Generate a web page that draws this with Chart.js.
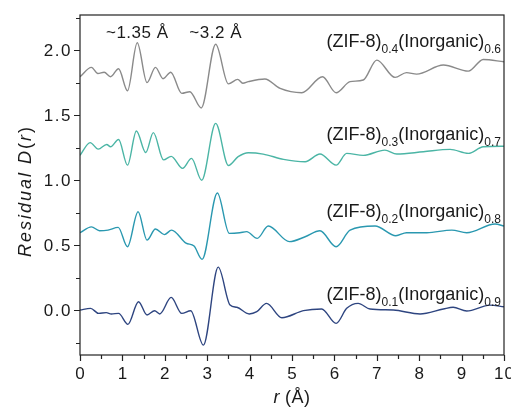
<!DOCTYPE html>
<html>
<head>
<meta charset="utf-8">
<script src="https://cdn.jsdelivr.net/npm/chart.js@4"></script>
<style>
  html, body { margin: 0; padding: 0; background: #fff; }
  #wrap { width: 511px; height: 411px; }
</style>
</head>
<body>
<div id="wrap"><canvas id="pdf" width="511" height="411"></canvas></div>
<script>
// residual D(r) curves, offset by composition
const r01 = [0, 0.25, 0.44, 0.62, 0.74, 0.91, 1.13, 1.38, 1.58, 1.76, 1.88, 2.15, 2.4, 2.61, 2.91, 3.26, 3.54, 3.7, 3.99, 4.17, 4.4, 4.76, 5.27, 5.7, 6.04, 6.29, 6.56, 6.84, 7.39, 8.02, 8.57, 8.8, 9.12, 9.67, 10];
const d01 = [0, 0.013, -0.026, -0.02, -0.03, -0.026, -0.11, 0.064, -0.038, -0.005, -0.03, 0.097, -0.026, -0.005, -0.27, 0.33, 0.038, 0.021, -0.03, -0.013, 0.051, -0.059, -0.005, 0.008, -0.103, 0.013, 0.051, 0.008, 0.0, -0.03, 0.008, 0.021, -0.008, 0.038, 0.025];

const r02 = [0, 0.27, 0.46, 0.66, 0.9, 1.12, 1.37, 1.58, 1.78, 1.99, 2.16, 2.5, 2.69, 2.88, 3.24, 3.52, 3.77, 3.93, 4.18, 4.44, 4.94, 5.31, 5.66, 6.04, 6.37, 6.96, 7.45, 7.7, 8.18, 8.77, 9.12, 9.79, 10];
const d02 = [0.595, 0.64, 0.61, 0.615, 0.636, 0.487, 0.756, 0.538, 0.623, 0.58, 0.615, 0.515, 0.492, 0.39, 0.9, 0.59, 0.595, 0.603, 0.551, 0.646, 0.526, 0.564, 0.61, 0.487, 0.615, 0.646, 0.572, 0.595, 0.595, 0.615, 0.595, 0.662, 0.646];

const r03 = [0, 0.24, 0.43, 0.63, 0.72, 0.91, 1.12, 1.33, 1.55, 1.73, 1.97, 2.15, 2.42, 2.63, 2.87, 3.2, 3.5, 3.73, 3.97, 4.32, 4.8, 5.31, 5.66, 6.04, 6.29, 6.68, 7.19, 7.47, 8.1, 8.73, 9.16, 9.51, 10];
const d03 = [1.19, 1.288, 1.238, 1.274, 1.256, 1.312, 1.115, 1.378, 1.212, 1.365, 1.155, 1.182, 1.09, 1.167, 0.998, 1.436, 1.112, 1.18, 1.21, 1.2, 1.159, 1.141, 1.2, 1.115, 1.205, 1.19, 1.23, 1.2, 1.218, 1.236, 1.205, 1.256, 1.26];

const r04 = [0, 0.27, 0.42, 0.57, 0.72, 0.91, 1.12, 1.35, 1.58, 1.78, 1.96, 2.14, 2.4, 2.59, 2.86, 3.2, 3.5, 3.72, 3.84, 3.97, 4.36, 4.72, 5.23, 5.72, 6.04, 6.37, 6.68, 7.0, 7.43, 7.7, 7.94, 8.57, 9.16, 9.51, 10];
const d04 = [1.795, 1.867, 1.82, 1.83, 1.795, 1.857, 1.687, 2.056, 1.75, 1.867, 1.78, 1.83, 1.667, 1.68, 1.555, 2.045, 1.74, 1.775, 1.745, 1.757, 1.777, 1.705, 1.672, 1.795, 1.672, 1.757, 1.77, 1.923, 1.79, 1.827, 1.815, 1.885, 1.838, 1.928, 1.91];

const seriesNames = ["0.1|0.9", "0.2|0.8", "0.3|0.7", "0.4|0.6"];
const seriesColors = ["#2e4580", "#2a98b0", "#4bb5a5", "#8a8a8a"];
const labelBaselines = [300, 217, 140, 47];

const xTicks = [0, 1, 2, 3, 4, 5, 6, 7, 8, 9, 10];
const yTicks = [0.0, 0.5, 1.0, 1.5, 2.0];
const peakNotes = [["~1.35 Å", 1.35], ["~3.2 Å", 3.2]];

const FONT = "'Liberation Sans', Arial, sans-serif";

function toPoints(rs, ds) {
  return rs.map((r, i) => ({ x: r, y: ds[i] }));
}

// draw a sequence of text runs (different fonts / vertical offsets) as one label
function drawRuns(ctx, runs, x, y, align) {
  let total = 0;
  runs.forEach((run) => {
    ctx.font = run.font;
    ctx.letterSpacing = run.spacing || "0px";
    run.w = ctx.measureText(run.text).width;
    total += run.w;
  });
  let cx = align === "right" ? x - total : align === "center" ? x - total / 2 : x;
  runs.forEach((run) => {
    ctx.font = run.font;
    ctx.letterSpacing = run.spacing || "0px";
    ctx.textAlign = "left";
    ctx.fillText(run.text, cx, y + (run.dy || 0));
    cx += run.w;
  });
  ctx.letterSpacing = "0px";
}

const axesPlugin = {
  id: "axesPlugin",
  beforeDraw(chart) {
    const ctx = chart.ctx;
    ctx.save();
    ctx.fillStyle = "#fff";
    ctx.fillRect(0, 0, chart.width, chart.height);
    ctx.restore();
  },
  afterDraw(chart) {
    const ctx = chart.ctx;
    const area = chart.chartArea;
    const xs = chart.scales.x;
    const ys = chart.scales.y;
    ctx.save();

    // frame
    ctx.strokeStyle = "#222";
    ctx.lineWidth = 1.2;
    ctx.strokeRect(area.left, area.top, area.right - area.left, area.bottom - area.top);

    // ticks, major and minor, pointing outward
    ctx.beginPath();
    for (let v = 0; v <= 10.001; v += 0.5) {
      const px = Math.round(xs.getPixelForValue(v)) + 0.5;
      const len = Number.isInteger(Math.round(v * 2) / 2) && v % 1 === 0 ? 6 : 4;
      ctx.moveTo(px, area.bottom);
      ctx.lineTo(px, area.bottom + len);
    }
    for (let v = -0.25; v <= 2.3; v += 0.25) {
      const py = Math.round(ys.getPixelForValue(v)) + 0.5;
      const len = Math.abs(v * 2 - Math.round(v * 2)) < 0.01 ? 6 : 4;
      ctx.moveTo(area.left, py);
      ctx.lineTo(area.left - len, py);
    }
    ctx.stroke();

    // tick labels
    ctx.fillStyle = "#1a1a1a";
    ctx.textBaseline = "alphabetic";
    yTicks.forEach((v) => {
      drawRuns(ctx, [{ text: v.toFixed(1), font: "17px " + FONT, spacing: "1.5px" }],
        area.left - 8, ys.getPixelForValue(v) + 6, "right");
    });
    xTicks.forEach((v) => {
      drawRuns(ctx, [{ text: String(v), font: "17px " + FONT, spacing: "1px" }],
        xs.getPixelForValue(v) + 0.5, area.bottom + 24, "center");
    });

    // axis titles
    drawRuns(ctx, [
      { text: "r", font: "italic 18px " + FONT },
      { text: " (Å)", font: "18px " + FONT, spacing: "0.5px" },
    ], 292, 403, "center");

    ctx.save();
    ctx.translate(31, 192);
    ctx.rotate(-Math.PI / 2);
    drawRuns(ctx, [
      { text: "Residual D", font: "italic 18px " + FONT, spacing: "2px" },
      { text: "(", font: "18px " + FONT, spacing: "2px" },
      { text: "r", font: "italic 18px " + FONT, spacing: "2px" },
      { text: ")", font: "18px " + FONT },
    ], 0, 0, "center");
    ctx.restore();

    // peak annotations
    peakNotes.forEach(([text, r]) => {
      drawRuns(ctx, [{ text: text, font: "17px " + FONT, spacing: "0.5px" }],
        xs.getPixelForValue(r), 38, "center");
    });

    // composition labels with subscripts
    seriesNames.forEach((name, i) => {
      const [a, b] = name.split("|");
      drawRuns(ctx, [
        { text: "(ZIF-8)", font: "18px " + FONT },
        { text: a, font: "12px " + FONT, dy: 6 },
        { text: "(Inorganic)", font: "18px " + FONT },
        { text: b, font: "12px " + FONT, dy: 6 },
      ], 501, labelBaselines[i], "right");
    });

    ctx.restore();
  },
};

const pairs = [[r01, d01], [r02, d02], [r03, d03], [r04, d04]];

new Chart(document.getElementById("pdf"), {
  type: "line",
  data: {
    datasets: pairs.map(([rs, ds], i) => ({
      label: seriesNames[i],
      data: toPoints(rs, ds),
      borderColor: seriesColors[i],
      borderWidth: 1.4,
      pointRadius: 0,
      fill: false,
      cubicInterpolationMode: "monotone",
    })),
  },
  options: {
    responsive: false,
    animation: false,
    layout: { padding: { left: 80, right: 7, top: 15, bottom: 56 } },
    plugins: {
      legend: { display: false },
      tooltip: { enabled: false },
    },
    scales: {
      x: { type: "linear", min: 0, max: 10, display: false },
      y: { type: "linear", min: -0.346, max: 2.27, display: false },
    },
  },
  plugins: [axesPlugin],
});
</script>
</body>
</html>
